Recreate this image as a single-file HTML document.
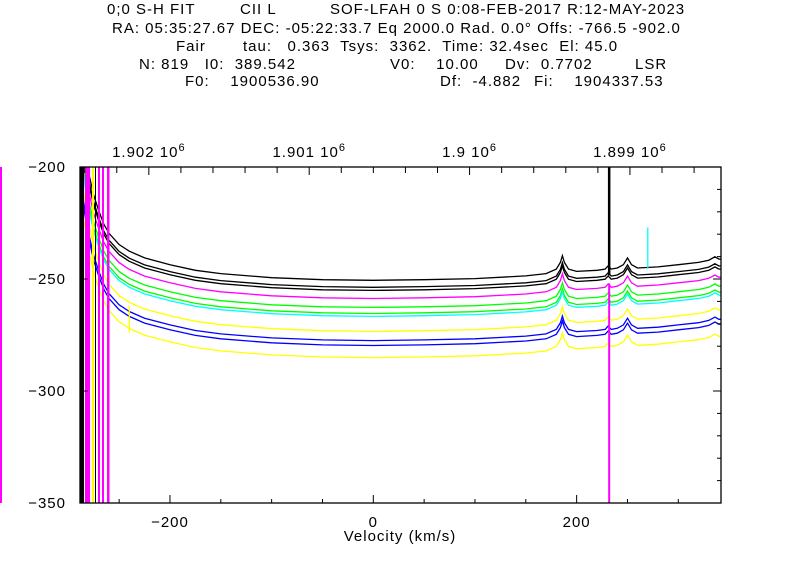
<!DOCTYPE html>
<html><head><meta charset="utf-8"><style>
body{margin:0;background:#fff;width:800px;height:560px;overflow:hidden}
svg text{font-family:"Liberation Sans",sans-serif;font-size:15px;letter-spacing:1px;fill:#000;white-space:pre}
</style></head><body>
<svg id="c" width="800" height="560" xmlns="http://www.w3.org/2000/svg" xml:space="preserve">
<g>
<text x="107" y="14">0;0 S-H FIT</text><text x="240" y="14">CII L</text><text x="330" y="14">SOF-LFAH 0 S 0:08-FEB-2017 R:12-MAY-2023</text>
<text x="112" y="33">RA: 05:35:27.67 DEC: -05:22:33.7 Eq 2000.0 Rad. 0.0° Offs: -766.5 -902.0</text>
<text x="176" y="51">Fair</text><text x="243" y="51">tau:   0.363  Tsys:  3362.  Time: 32.4sec  El: 45.0</text>
<text x="139" y="69">N: 819   I0:  389.542</text><text x="390" y="69">V0:    10.00</text><text x="505" y="69">Dv:  0.7702</text><text x="635" y="69">LSR</text>
<text x="185" y="86">F0:    1900536.90</text><text x="440" y="86">Df:  -4.882</text><text x="534" y="86">Fi:    1904337.53</text>
</g>
</svg>
<script>
const velocities=[-288,-285,-280,-275,-270,-265,-260,-250,-240,-225,-200,-175,-150,-100,-50,0,50,100,150,170,180,184,186,188,192,200,220,228,231,234,240,246,250,254,260,280,300,320,330,336,340,346];
const shape=[75,62,48,38,31,25,21,16,13,10,7,4.5,3,1.2,0.3,0,0.3,0.8,2,3,5,8,11,8,5,4,4.5,5,6.5,5,5.5,7,10,7,5.5,6,7,8,9,10.5,9.5,9.5];
const seriesLevels=[-250.6,-253.7,-255.1,-258.7,-262.7,-265.4,-266.7,-273.4,-277.5,-279.7,-285.1];
const seriesColors=['#000','#000','#000','#f0f','#0f0','#0f0','#0ff','#ff0','#00f','#00f','#ff0'];
const xTicks=[-200,0,200];
const yTicks=[-200,-250,-300,-350];
const freqLabels=[1.902,1.901,1.9,1.899];
const NS='http://www.w3.org/2000/svg',svg=document.getElementById('c');
const X0=80,X1=721,Y0=167,Y1=503,VMIN=-288.5,VMAX=342,YMIN=-350,YMAX=-200;
const xs=v=>X0+(v-VMIN)/(VMAX-VMIN)*(X1-X0);
const ys=t=>Y1-(t-YMIN)/(YMAX-YMIN)*(Y1-Y0);
function el(t,a,p){const e=document.createElementNS(NS,t);for(const k in a)e.setAttribute(k,a[k]);(p||svg).appendChild(e);return e;}
const clip=el('clipPath',{id:'pc'});el('rect',{x:X0,y:Y0,width:X1-X0,height:Y1-Y0},clip);
const plot=el('g',{'clip-path':'url(#pc)'});


seriesLevels.forEach((lv,i)=>{
  let d='';velocities.forEach((v,j)=>{d+=(j?'L':'M')+xs(v).toFixed(1)+' '+ys(lv+shape[j]).toFixed(1);});
  const p=el('path',{d:d,fill:'none',stroke:seriesColors[i],'stroke-width':1.3},plot);
  
  
});
const spikes=[[232,-200,-248.4,'#000',2.5],[232,-252,-350,'#f0f',2],[270,-227,-245.5,'#0ff',1.3],[-240,-262,-274,'#ff0',1.3]];
spikes.forEach(s=>{const l=el('line',{x1:xs(s[0]),x2:xs(s[0]),y1:ys(s[1]),y2:ys(s[2]),stroke:s[3],'stroke-width':s[4]},plot);

});
[[80,4,'#000'],[85,5,'#f0f'],[92,2,'#ff0'],[95,1,'#000'],[98,2,'#f0f'],[102,2,'#f0f'],[107,2.5,'#f0f']].forEach(s=>{
 const r=el('rect',{x:s[0],y:Y0,width:s[1],height:Y1-Y0,fill:s[2]},plot);
 
 });
const ms=el('rect',{x:0,y:Y0,width:2,height:Y1-Y0,fill:'#f0f'});


const fr=el('rect',{x:X0,y:Y0,width:X1-X0,height:Y1-Y0,fill:'none',stroke:'#000','stroke-width':1.3});


for(let v=-250;v<=VMAX;v+=50){const L=v%200===0?8:4;el('line',{x1:xs(v),x2:xs(v),y1:Y1,y2:Y1-L,stroke:'#000'});}
xTicks.forEach(v=>{const t=el('text',{x:xs(v),y:Y1+24,'text-anchor':'middle'});t.textContent=(v<0?'−':'')+Math.abs(v);

});
const xt=el('text',{x:400,y:541,'text-anchor':'middle'});xt.textContent='Velocity (km/s)';


for(let t=-340;t<=-210;t+=10){const L=t%50===0?8:4;el('line',{x1:X0,x2:X0+L,y1:ys(t),y2:ys(t),stroke:'#000'});el('line',{x1:X1,x2:X1-L,y1:ys(t),y2:ys(t),stroke:'#000'});}
yTicks.forEach(t=>{const e=el('text',{x:X0-14,y:ys(t)+5,'text-anchor':'end'});e.textContent='−'+Math.abs(t);

});
const C=299792.458,F0=1900536.9;
const fx=F=>xs(10+C*(F0-F)/F0);
for(let F=1902400;F>=1898600;F-=200){const x=fx(F);if(x<X0||x>X1)continue;const L=(F%1000===0)?8:6;el('line',{x1:x,x2:x,y1:Y0,y2:Y0+L,stroke:'#000'});}
freqLabels.forEach(f=>{const t=el('text',{x:fx(f*1e6),y:Y0-10,'text-anchor':'middle'});t.textContent=f+' 10';
const s=el('tspan',{dy:-6,'font-size':11},t);s.textContent='6';

});
</script>
</body></html>
